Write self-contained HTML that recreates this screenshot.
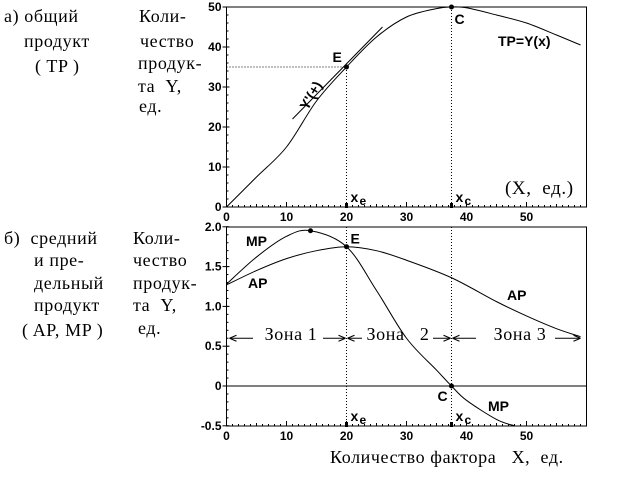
<!DOCTYPE html>
<html><head><meta charset="utf-8"><style>
body{margin:0;background:#fff}
svg{display:block}
text{white-space:pre}
.t{font-family:"Liberation Serif",serif;font-size:18px;letter-spacing:0.6px;fill:#000}
.n{font-family:"Liberation Sans",sans-serif;font-size:12px;font-weight:bold;fill:#000}
.s{font-family:"Liberation Sans",sans-serif;font-size:14px;font-weight:bold;fill:#000}
</style></head><body>
<svg id="c" width="640" height="480" viewBox="0 0 640 480">
<g>
<text class="t" x="4" y="22">а) общий</text>
<text class="t" x="24" y="47">продукт</text>
<text class="t" x="35" y="72">( TP )</text>
<text class="t" x="139" y="22">Коли-</text>
<text class="t" x="140" y="47">чество</text>
<text class="t" x="138" y="69">продук-</text>
<text class="t" x="138" y="92">та  Y,</text>
<text class="t" x="139" y="112">ед.</text>
<text class="t" x="4" y="244">б)  средний</text>
<text class="t" x="34" y="266">и пре-</text>
<text class="t" x="34" y="289">дельный</text>
<text class="t" x="34" y="311">продукт</text>
<text class="t" x="22" y="336">( AP, MP )</text>
<text class="t" x="133" y="244">Коли-</text>
<text class="t" x="133" y="266">чество</text>
<text class="t" x="133" y="289">продук-</text>
<text class="t" x="133" y="311">та  Y,</text>
<text class="t" x="138" y="334">ед.</text>
<text class="t" x="330" y="463">Количество фактора   X,  ед.</text>
<text class="t" x="505" y="194" style="font-size:19px">(X,  ед.)</text>
</g>
</svg>
<script>
const xs=[0,5,10,15,20,25,30,35,37.5,40,45,50,55,59];
const tp=[0,7.5,15,26.5,35,42.5,47.5,49.6,50,49.8,48,46,43,40.5];
const mpX=[0,5,10,14,20,25,30,35,37.5,40,45,48];
const mp=[1.28,1.62,1.88,1.95,1.75,1.2,0.6,0.2,0,-0.18,-0.42,-0.5];
const apX=[0,5,10,15,20,25,30,37.5,45,50,55,59];
const ap=[1.27,1.45,1.6,1.7,1.75,1.7,1.58,1.36,1.06,0.88,0.72,0.62];
const xTicks=[0,10,20,30,40,50];
const tpTicks=[0,10,20,30,40,50];
const bTicks=[-0.5,0,0.5,1.0,1.5,2.0];
const bTickLabels=["-0.5","0","0.5","1.0","1.5","2.0"];
const xE=20,xC=37.5,yE=35;
const svg=document.getElementById('c');
const NS='http://www.w3.org/2000/svg';
const X=v=>226.5+v*6;
const Y1=v=>207-v*4;
const Y2=v=>386-v*79.6;
function el(t,a,p){const e=document.createElementNS(NS,t);for(const k in a)e.setAttribute(k,a[k]);(p||svg).appendChild(e);return e;}
function line(x1,y1,x2,y2,extra){return el('line',Object.assign({x1,y1,x2,y2,stroke:'#000','stroke-width':1},extra||{}));}
function smooth(px,py){let d='M'+px[0]+','+py[0];for(let i=0;i<px.length-1;i++){const x0=px[i-1]??px[i],y0=py[i-1]??py[i],x3=px[i+2]??px[i+1],y3=py[i+2]??py[i+1];const c1x=px[i]+(px[i+1]-x0)/6,c1y=py[i]+(py[i+1]-y0)/6,c2x=px[i+1]-(x3-px[i])/6,c2y=py[i+1]-(y3-py[i])/6;d+=` C${c1x},${c1y} ${c2x},${c2y} ${px[i+1]},${py[i+1]}`;}return d;}
function txt(x,y,s,cls,anchor){const t=el('text',{x,y,class:cls,'text-anchor':anchor||'start'});t.textContent=s;return t;}
function frame(top,bot,Yf,yt,yl,name){
 const g=el('rect',{x:X(0),y:top,width:X(60)-X(0),height:bot-top,fill:'none',stroke:'#000'});
 
 
 for(let i=0;i<=60;i++){const L=i%10==0?5:(i%5==0?3:2);line(X(i),bot,X(i),bot-L);}
 xTicks.forEach(v=>{const t=txt(X(v),bot+14,String(v),'n','middle');});
 yt.forEach((v,i)=>{line(X(0)-4,Yf(v),X(0)+3,Yf(v));const t=txt(X(0)-5,Yf(v)+4,yl[i],'n','end');});
 const st=(yt[1]-yt[0])/5;for(let v=yt[0];v<=yt[yt.length-1]+1e-9;v+=st)line(X(0),Yf(v),X(0)+2,Yf(v));
}
frame(7,207,Y1,tpTicks,tpTicks.map(String),'tp');
frame(227,426,Y2,bTicks,bTickLabels,'ap-mp');
line(X(0),Y1(yE),X(xE),Y1(yE),{'stroke-dasharray':'1,2'});
line(X(xE),Y1(yE),X(xE),207,{'stroke-dasharray':'1,2'});
line(X(xC),Y1(50),X(xC),207,{'stroke-dasharray':'1,2'});
let p=el('path',{d:smooth(xs.map(X),tp.map(Y1)),fill:'none',stroke:'#000'});


let tg=line(X(11),Y1(22),X(26),Y1(45));


el('circle',{cx:X(xE),cy:Y1(yE),r:2.5});el('circle',{cx:X(xC),cy:Y1(50),r:2.5});
txt(X(xE)-14,Y1(yE)-5,'E','s');txt(X(xC)+3,Y1(50)+17,'C','s');
txt(498,46,'TP=Y(x)','s');
const yl=txt(0,0,"Y'(+)",'s');yl.setAttribute('transform',`translate(${X(13.5)},${Y1(24)}) rotate(-60)`);
[xE,xC].forEach(v=>{el('rect',{x:X(v)-1.5,y:203,width:3,height:5});});
txt(X(xE)+4,202,'x','s');txt(X(xE)+13,205,'e','n');
txt(X(xC)+4,202,'x','s');txt(X(xC)+13,205,'c','n');
line(X(0),Y2(0),X(60),Y2(0));
line(X(xE),227,X(xE),426,{'stroke-dasharray':'1,2'});
line(X(xC),227,X(xC),426,{'stroke-dasharray':'1,2'});
p=el('path',{d:smooth(mpX.map(X),mp.map(Y2)),fill:'none',stroke:'#000'});


p=el('path',{d:smooth(apX.map(X),ap.map(Y2)),fill:'none',stroke:'#000'});


el('circle',{cx:X(14),cy:Y2(1.95),r:2.5});el('circle',{cx:X(xE),cy:Y2(1.75),r:2.5});el('circle',{cx:X(xC),cy:Y2(0),r:2.5});
txt(X(xE)+4,Y2(1.75)-3,'E','s');txt(X(xC)-14,Y2(0)+15,'C','s');
txt(246,246,'MP','s');txt(248,288,'AP','s');txt(507,300,'AP','s');txt(488,411,'MP','s');
[xE,xC].forEach(v=>{el('rect',{x:X(v)-1.5,y:422,width:3,height:5});});
txt(X(xE)+4,421,'x','s');txt(X(xE)+13,424,'e','n');
txt(X(xC)+4,421,'x','s');txt(X(xC)+13,424,'c','n');
const za=Y2(0.6);
function arrow(x1,x2){line(x1,za,x2,za);const d=x2>x1?-1:1;el('path',{d:`M${x2},${za} l${d*7},-3 M${x2},${za} l${d*7},3`,stroke:'#000',fill:'none'});}
arrow(253,X(0.5));arrow(323,X(xE)-1);arrow(362,X(xE)+1);arrow(433,X(xC)-1);arrow(476,X(xC)+1);arrow(555,X(59));
txt(291,340,'Зона 1','t','middle');txt(398,340,'Зона   2','t','middle');txt(520,340,'Зона 3','t','middle');
</script>
</body></html>
